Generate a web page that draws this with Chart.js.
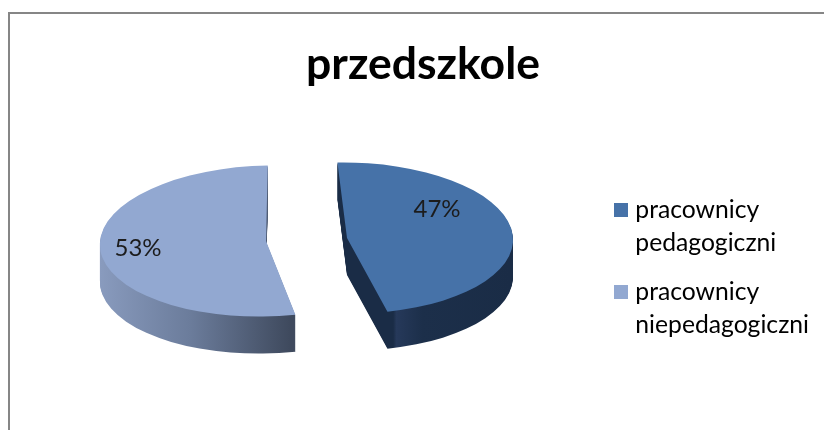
<!DOCTYPE html>
<html><head><meta charset="utf-8">
<style>
html,body{margin:0;padding:0;background:#fff;width:824px;height:430px;overflow:hidden}
#frame{position:absolute;left:8px;top:12px;width:816px;height:418px;box-sizing:border-box;border-left:2px solid #868686;border-top:2px solid #868686}
#c{position:absolute;left:0;top:0}
</style>
<script src="https://cdn.jsdelivr.net/npm/chart.js@4"></script>
</head><body>
<div id="frame"></div>
<canvas id="c" width="824" height="430"></canvas>
<script>
const chartTitle = 'przedszkole';
const categories = [['pracownicy','pedagogiczni'],['pracownicy','niepedagogiczni']];
const values = [47, 53];
const topColors = ['#4672A8','#92A8D1'];

const FONT = 'Lato, "Open Sans", sans-serif';
const SQUASH = 0.455, DEPTH = 37;
const sliceCentres = [[347,238],[266,241]];
const sliceSkew = [0.05,-0.1];
const labelCentres = [[437,209],[138,248]];

function sideFill(ctx,i,arc,cx){
  const dx = arc.x-cx;
  let g;
  if(i===0){
    g = ctx.createLinearGradient(345+dx,0,510+dx,0);
    g.addColorStop(0,'#1A2C46'); g.addColorStop(0.27,'#1A2C46'); g.addColorStop(0.29,'#26395A');
    g.addColorStop(0.45,'#1C2F4A'); g.addColorStop(1,'#1A2C46');
  } else {
    g = ctx.createLinearGradient(98+dx,0,297+dx,0);
    g.addColorStop(0,'#8A9CBF'); g.addColorStop(0.5,'#6B7C9B'); g.addColorStop(1,'#3F4A5E');
  }
  return g;
}

const pie3d = {
  id:'pie3d',
  beforeDatasetsDraw(chart){
    const ctx = chart.ctx, arcs = chart.getDatasetMeta(0).data;
    arcs.forEach((arc,i)=>{
      const [cx,cy] = sliceCentres[i];
      const base = arc.options;
      const place = dy=>{
        ctx.translate(cx,cy+dy);
        ctx.transform(1,0,sliceSkew[i]*SQUASH,SQUASH,0,0);
        ctx.translate(-arc.x,-arc.y);
      };
      for(let d=DEPTH;d>=1;d--){
        ctx.save();
        place(d);
        arc.options = Object.assign({},base,{backgroundColor:sideFill(ctx,i,arc,cx)});
        arc.draw(ctx);
        ctx.restore();
      }
      ctx.save();
      place(0);
      arc.options = base;
      arc.draw(ctx);
      ctx.restore();
    });
    ctx.save();
    ctx.fillStyle='#1C1C1C';
    ctx.font='24px '+FONT;
    ctx.textAlign='center';ctx.textBaseline='middle';
    const total = values.reduce((a,b)=>a+b,0);
    values.forEach((v,i)=>ctx.fillText(Math.round(v/total*100)+'%',labelCentres[i][0],labelCentres[i][1]));
    ctx.restore();
    return false;
  }
};
function swatch(color){
  const s=document.createElement('canvas');s.width=14;s.height=14;
  const x=s.getContext('2d');x.fillStyle=color;x.fillRect(0,0,14,14);
  return s;
}
new Chart(document.getElementById('c'),{
  type:'pie',
  data:{labels:categories,datasets:[{data:values,backgroundColor:topColors,borderWidth:0}]},
  plugins:[pie3d],
  options:{
    responsive:false,animation:false,
    rotation:-2,
    radius:166,
    layout:{padding:{left:27,right:5,top:0,bottom:0}},
    plugins:{
      tooltip:{enabled:false},
      title:{display:true,text:chartTitle,color:'#000',font:{family:FONT,size:44.5,weight:'bold'},padding:{top:38,bottom:90}},
      legend:{display:true,position:'right',align:'start',fullSize:false,
        labels:{
          color:'#1C1C1C',font:{family:FONT,size:24.7,lineHeight:1.335},
          usePointStyle:true,pointStyleWidth:3,boxHeight:25,padding:16,
          generateLabels:chart=>categories.map((t,i)=>({text:t,fillStyle:topColors[i],strokeStyle:topColors[i],lineWidth:0,pointStyle:swatch(topColors[i]),index:i,hidden:false}))
        }
      }
    }
  }
});
</script>
</body></html>
